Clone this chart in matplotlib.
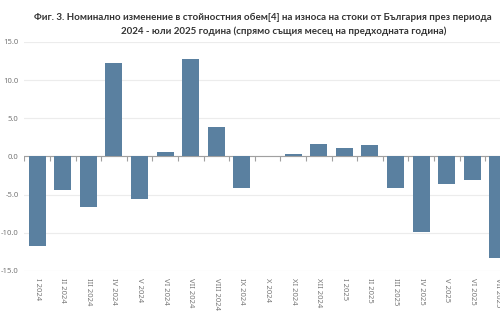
import matplotlib.pyplot as plt
import numpy as np

months = ['I 2024', 'II 2024', 'III 2024', 'IV 2024', 'V 2024', 'VI 2024', 'VII 2024',
          'VIII 2024', 'IX 2024', 'X 2024', 'XI 2024', 'XII 2024', 'I 2025', 'II 2025',
          'III 2025', 'IV 2025', 'V 2025', 'VI 2025', 'VII 2025']
change = [-11.7, -4.4, -6.6, 12.2, -5.6, 0.6, 12.8, 3.9, -4.1, 0.1, 0.3, 1.6,
          1.1, 1.5, -4.1, -9.9, -3.6, -3.1, -13.3]
yticks = [-15.0, -10.0, -5.0, 0.0, 5.0, 10.0, 15.0]

plt.rcParams['font.family'] = ['Noto Sans', 'DejaVu Sans']
plt.rcParams['axes.unicode_minus'] = False

fig = plt.figure(figsize=(5, 3.3), dpi=100)
ax = fig.add_axes([0.0486, 0.179, 0.9728, 0.694])

x = np.arange(len(months))
ax.bar(x, change, width=0.67, color='#5A80A0', zorder=3)

ax.set_xlim(-0.5, len(months) - 0.5)
ax.set_ylim(-15, 15)
ax.set_yticks(yticks)
ax.set_yticklabels([f'{v:.1f}' for v in yticks], fontsize=5.5, color='#777777')
ax.tick_params(axis='y', length=0, pad=4)
ax.grid(axis='y', color='#ececec', linewidth=0.8, zorder=0)
for s in ax.spines.values():
    s.set_visible(False)

ax.set_xticks(x)
ax.set_xticklabels(months, rotation=270, fontsize=5.5, color='#777777')
ax.tick_params(axis='x', length=0, pad=5)

# axis line at zero with small ticks pointing down at category boundaries
ax.axhline(0, color='#a0a0a0', linewidth=0.8, zorder=2)
bounds = np.arange(len(months) + 1) - 0.5
ax.vlines(bounds, -0.55, 0, color='#a0a0a0', linewidth=0.8, zorder=2)

title_font = dict(ha='center', va='center', fontsize=7, fontweight='bold',
                  color='#333333', family=['Lato', 'DejaVu Sans'])
fig.text(0.526, 0.948, 'Фиг. 3. Номинално изменение в стойностния обем[4] на износа на стоки от България през периода',
         **title_font)
fig.text(0.568, 0.905, '2024 - юли 2025 година (спрямо същия месец на предходната година)',
         **title_font)

fig.savefig('out.png', dpi=100)
